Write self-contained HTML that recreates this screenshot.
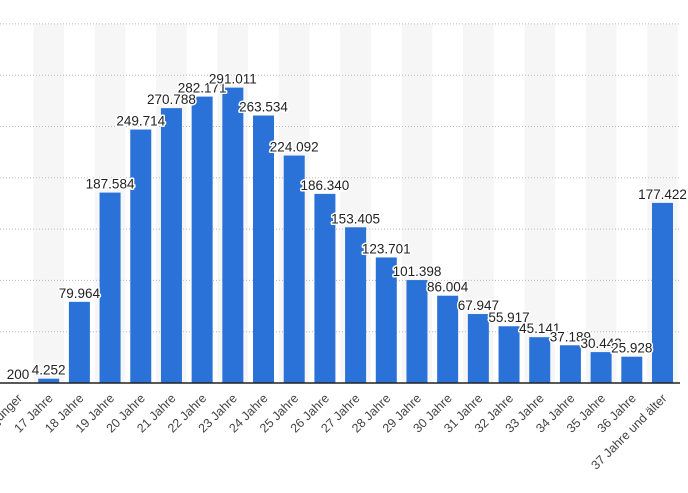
<!DOCTYPE html>
<html><head><meta charset="utf-8"><style>
html,body{margin:0;padding:0;background:#fff;}
svg{display:block;font-family:"Liberation Sans",sans-serif;}
.v{font-size:13.5px;fill:#222;text-anchor:middle;paint-order:stroke;stroke:#fff;stroke-width:3px;stroke-linejoin:round;}
.x{font-size:12.5px;fill:#444;text-anchor:end;}
</style></head><body>
<svg id="c" width="688" height="493" viewBox="0 0 688 493"></svg>
<script>
const vals=[200,4252,79964,187584,249714,270788,282171,291011,263534,224092,186340,153405,123701,101398,86004,67947,55917,45141,37189,30443,25928,177422];
const labs=["16 Jahre und jünger"];for(let a=17;a<=36;a++)labs.push(a+" Jahre");labs.push("37 Jahre und älter");
const base=383,sc=1.015e-3,step=30.69,x0=18,bw=21;
let s="";
for(let i=1;i<22;i+=2){s+=`<rect x="${x0+step*i-15.3}" y="24" width="30.6" height="${base-24}" fill="#f6f6f6"/>`;}
for(let k=1;k<=7;k++){const y=base-51.3*k;s+=`<line x1="0" x2="680" y1="${y}" y2="${y}" stroke="#bbb" stroke-width="1" stroke-dasharray="1,2"/>`;}
vals.forEach((v,i)=>{const cx=x0+step*i,h=v*sc;s+=`<rect x="${cx-bw/2}" y="${base-h}" width="${bw}" height="${h}" fill="#2a72d8"/>`;});
s+=`<line x1="0" x2="680" y1="${base}" y2="${base}" stroke="#222" stroke-width="1.5"/>`;
vals.forEach((v,i)=>{const cx=x0+step*i,h=v*sc;const t=v.toLocaleString('de-DE').replace(/,/g,'.');s+=`<text class="v" x="${cx}" y="${base-h-4}">${t}</text>`;
s+=`<text class="x" transform="translate(${cx+5},${399}) rotate(-45)">${labs[i]}</text>`;});
document.getElementById('c').innerHTML=s;
</script>
</body></html>
